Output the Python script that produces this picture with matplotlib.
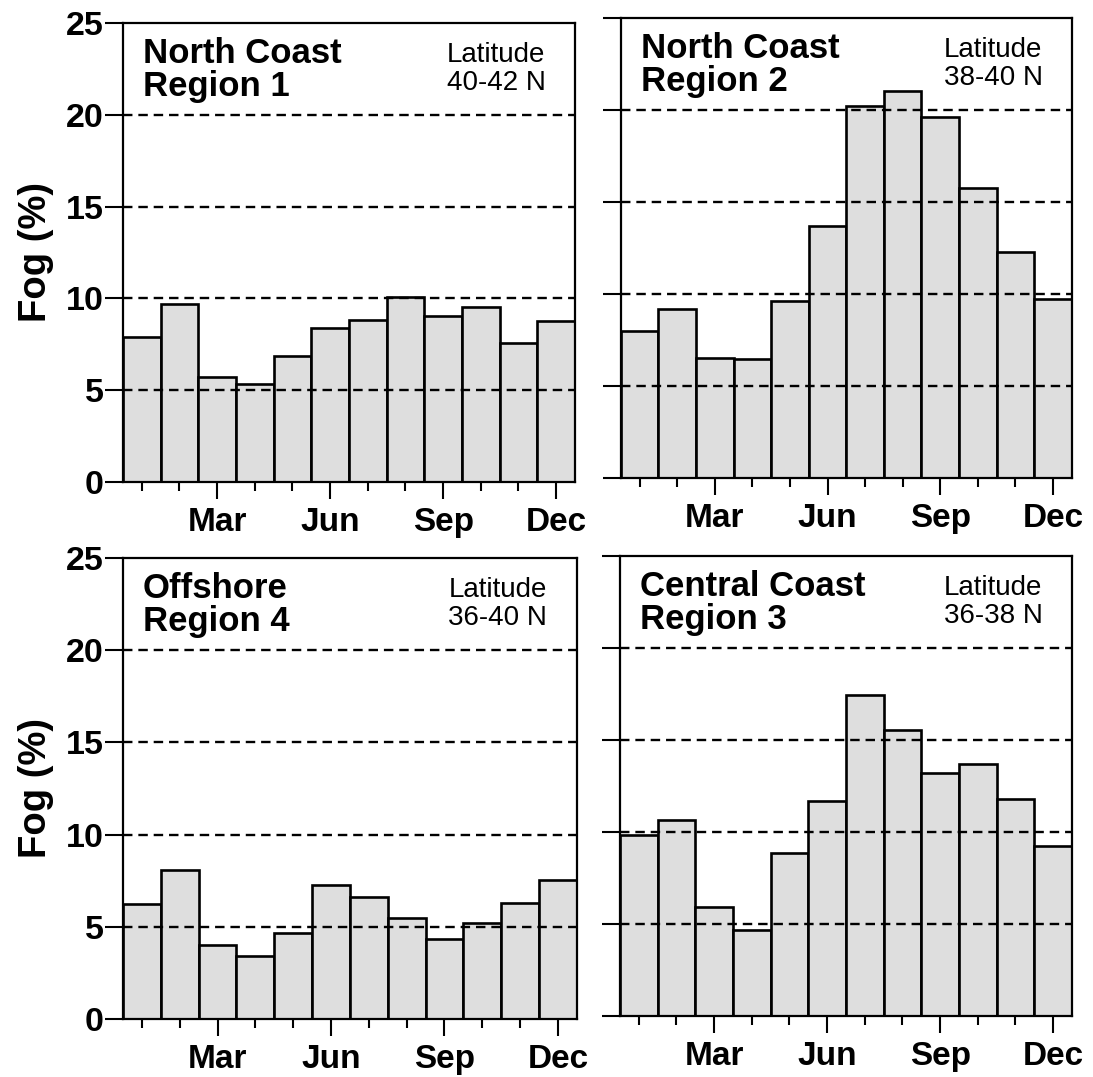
import matplotlib
matplotlib.use("Agg")
import matplotlib.pyplot as plt
import numpy as np

plt.rcParams['font.family'] = ['Liberation Sans', 'DejaVu Sans']

months = np.arange(1, 13)
major_months = [3, 6, 9, 12]
major_labels = ["Mar", "Jun", "Sep", "Dec"]
y_ticks = [0, 5, 10, 15, 20, 25]
grid_levels = [5, 10, 15, 20]

region1 = [7.9, 9.7, 5.7, 5.35, 6.85, 8.4, 8.8, 10.1, 9.05, 9.55, 7.55, 8.75]
region2 = [8.0, 9.2, 6.5, 6.45, 9.6, 13.7, 20.2, 21.05, 19.6, 15.75, 12.3, 9.7]
region4 = [6.25, 8.1, 4.0, 3.4, 4.65, 7.25, 6.6, 5.5, 4.35, 5.2, 6.3, 7.55]
region3 = [9.85, 10.65, 5.9, 4.7, 8.85, 11.7, 17.45, 15.55, 13.2, 13.7, 11.8, 9.25]

panels = [
    # data, title, latitude, rect(left, bottom, width, height), show y labels
    (region1, "North Coast\nRegion 1", "Latitude\n40-42 N", [0.1125, 0.5525, 0.4135, 0.4262], True),
    (region2, "North Coast\nRegion 2", "Latitude\n38-40 N", [0.568, 0.5562, 0.4126, 0.4271], False),
    (region4, "Offshore\nRegion 4", "Latitude\n36-40 N", [0.1125, 0.0539, 0.4153, 0.428], True),
    (region3, "Central Coast\nRegion 3", "Latitude\n36-38 N", [0.5672, 0.0566, 0.4135, 0.4271], False),
]

fig = plt.figure(figsize=(10.93, 10.77), dpi=100)

for data, title, lat, rect, show_y in panels:
    ax = fig.add_axes(rect)
    ax.bar(months, data, width=1.0, color="#dedede", edgecolor="black",
           linewidth=1.9, zorder=2)
    for lv in grid_levels:
        ax.axhline(lv, color="black", linestyle=(0, (4, 2.5)), linewidth=1.7, zorder=3)
    ax.set_xlim(0.5, 12.5)
    ax.set_ylim(0, 25)
    ax.set_yticks(y_ticks)
    if show_y:
        ax.set_yticklabels([str(v) for v in y_ticks], fontsize=24.5, fontweight="bold")
        ax.set_ylabel("Fog (%)", fontsize=27.5, fontweight="bold", labelpad=8)
    else:
        ax.set_yticklabels([])
    ax.tick_params(axis="y", direction="out", length=13, width=1.5, pad=1)
    ax.set_xticks(major_months)
    ax.set_xticklabels(major_labels, fontsize=24, fontweight="bold")
    ax.set_xticks([m for m in months if m not in major_months], minor=True)
    ax.tick_params(axis="x", which="major", direction="out", length=12, width=1.5, pad=6)
    ax.tick_params(axis="x", which="minor", direction="out", length=6.5, width=1.5)
    for sp in ax.spines.values():
        sp.set_linewidth(1.6)
        sp.set_zorder(4)
    ax.text(0.044, 0.97, title, transform=ax.transAxes, fontsize=25,
            fontweight="bold", va="top", ha="left", linespacing=1.02, zorder=5)
    ax.text(0.717, 0.958, lat, transform=ax.transAxes, fontsize=20,
            va="top", ha="left", linespacing=1.08, zorder=5)

fig.savefig("out.png", dpi=100)
